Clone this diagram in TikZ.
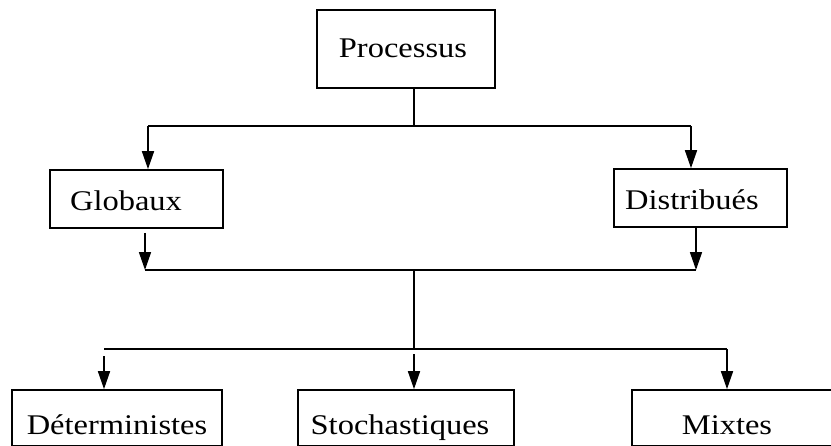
\documentclass[tikz,border=0pt]{standalone}
\usepackage{fontspec}
\setmainfont{Liberation Serif}[FakeStretch=1.14]
\usetikzlibrary{arrows.meta,calc}
\tikzset{
  boxnode/.style={draw, rectangle, line width=1.7pt, inner sep=0pt},
  lbl/.style={anchor=base, inner sep=0pt, font=\fontsize{28.5}{30}\selectfont},
  conn/.style={line width=1.7pt},
  arr/.style={line width=1.7pt, -{Triangle[length=18pt,width=12pt]}}
}
\begin{document}
\begin{tikzpicture}[x=1pt,y=1pt]
\useasboundingbox (0,0) rectangle (831,-445);
\fill[white] (0,0) rectangle (831,-445);
\clip (0,0) rectangle (831,-445);
% boxes
\node[boxnode, minimum width=178pt, minimum height=78pt] (P) at (406,-49) {};
\node[boxnode, minimum width=173pt, minimum height=58pt] (G) at (136.5,-199) {};
\node[boxnode, minimum width=173pt, minimum height=58pt] (D) at (700.5,-198) {};
\node[boxnode, minimum width=210pt, minimum height=56pt] (Det) at (117,-418) {};
\node[boxnode, minimum width=216pt, minimum height=56pt] (Sto) at (406,-418) {};
\node[boxnode, minimum width=218pt, minimum height=56pt] (Mix) at (741,-418) {};
% labels
\node[lbl] (tP) at (403,-57) {Processus};
\node[lbl] (tG) at (126,-210) {Globaux};
\node[lbl] (tD) at (692,-209) {Distribués};
\node[lbl] (tDet) at (117,-434) {Déterministes};
\node[lbl] (tSto) at (400,-434) {Stochastiques};
\node[lbl] (tMix) at (727,-434) {Mixtes};
% junctions
\coordinate (j1) at (414,-126);
\coordinate (l1) at (148,-126);
\coordinate (r1) at (691,-126);
\coordinate (j2) at (414,-270);
\coordinate (l2) at (145,-270);
\coordinate (r2) at (696,-270);
\coordinate (j3) at (414,-349);
\coordinate (l3) at (104,-349);
\coordinate (r3) at (727,-349);
% first level
\draw[conn] (P.south -| j1) -- (j1);
\draw[conn] (l1) -- (r1);
\draw[arr] (l1) -- (l1 |- G.north);
\draw[arr] (r1) -- (r1 |- D.north);
% second level
\draw[arr] ($(G.south -| l2)+(0,-4)$) -- (l2);
\draw[arr] (D.south -| r2) -- (r2);
\draw[conn] (l2) -- (r2);
\draw[conn] (j2) -- (j3);
% third level
\draw[conn] (l3) -- (r3);
\draw[arr] ($(l3)+(0,-7)$) -- (l3 |- Det.north);
\draw[arr] ($(j3)+(0,-5)$) -- (j3 |- Sto.north);
\draw[arr] (r3) -- (r3 |- Mix.north);
\end{tikzpicture}
\end{document}
